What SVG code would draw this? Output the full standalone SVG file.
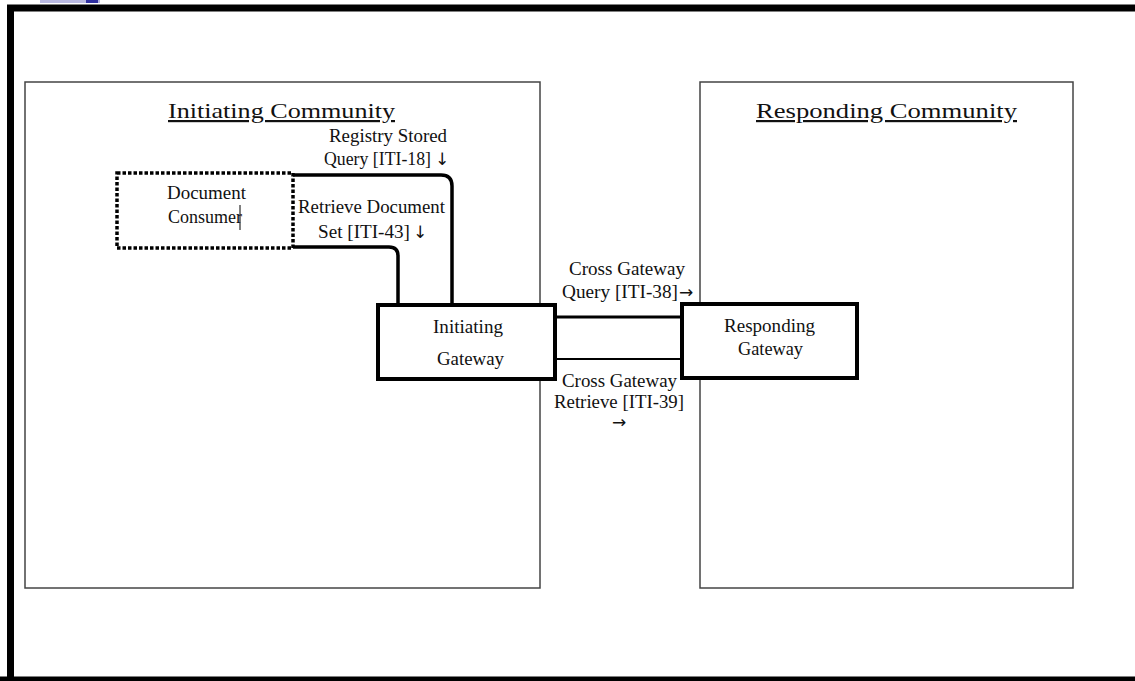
<svg xmlns="http://www.w3.org/2000/svg" width="1135" height="681" viewBox="0 0 1135 681">
<style>
text{font-family:"Liberation Serif","Times New Roman",serif;fill:#111}
.t{font-size:18px}
.h{font-size:22px;text-decoration:underline}
.a{font-family:"DejaVu Sans",sans-serif;font-size:17px}
.comm{fill:none;stroke:#444;stroke-width:1.5}
.gw{fill:#fff;stroke:#000;stroke-width:4}
.conn{fill:none;stroke:#000;stroke-width:3.5}
</style>
<rect width="1135" height="681" fill="#fff"/>
<rect x="40" y="0" width="60" height="3" fill="#b8b8e0"/>
<rect x="86" y="0" width="12" height="3" fill="#3030a0"/>
<path d="M10.5 683 V8 H1140" fill="none" stroke="#000" stroke-width="7"/>
<line x1="0" y1="680" x2="1135" y2="680" stroke="#000" stroke-width="7"/>
<g id="initiating-community">
<rect class="comm" x="25" y="82" width="515" height="506"/>
<text class="h" x="168" y="118" textLength="227" lengthAdjust="spacingAndGlyphs">Initiating Community</text>
</g>
<g id="responding-community">
<rect class="comm" x="700" y="82" width="373" height="506"/>
<text class="h" x="756" y="118" textLength="261" lengthAdjust="spacingAndGlyphs">Responding Community</text>
</g>
<g id="connectors">
<path class="conn" d="M293 175 H441 Q452 175 452 186 V305"/>
<path class="conn" d="M293 247 H389 Q398 247 398 256 V305"/>
<line x1="555" y1="317" x2="682" y2="317" stroke="#000" stroke-width="3"/>
<line x1="555" y1="359" x2="682" y2="359" stroke="#000" stroke-width="2"/>
<text class="t" x="329" y="142" textLength="118" lengthAdjust="spacingAndGlyphs">Registry Stored</text>
<text class="t" x="324" y="165"><tspan textLength="107" lengthAdjust="spacingAndGlyphs">Query [ITI-18]</tspan><tspan class="a" x="435">↓</tspan></text>
<text class="t" x="298" y="213" textLength="147" lengthAdjust="spacingAndGlyphs">Retrieve Document</text>
<text class="t" x="318" y="238"><tspan textLength="92" lengthAdjust="spacingAndGlyphs">Set [ITI-43]</tspan><tspan class="a" x="413">↓</tspan></text>
<text class="t" x="569" y="275" textLength="116" lengthAdjust="spacingAndGlyphs">Cross Gateway</text>
<text class="t" x="562" y="298"><tspan textLength="116" lengthAdjust="spacingAndGlyphs">Query [ITI-38]</tspan><tspan class="a" x="679">→</tspan></text>
<text class="t" x="562" y="387" textLength="115" lengthAdjust="spacingAndGlyphs">Cross Gateway</text>
<text class="t" x="554" y="408" textLength="130" lengthAdjust="spacingAndGlyphs">Retrieve [ITI-39]</text>
<text class="a" x="612" y="428">→</text>
</g>
<g id="document-consumer">
<rect x="117" y="173" width="176" height="75" fill="#fff" stroke="#000" stroke-width="3.5" stroke-dasharray="3.5 2"/>
<text class="t" x="167" y="199" textLength="79" lengthAdjust="spacingAndGlyphs">Document</text>
<text class="t" x="168" y="223" textLength="74" lengthAdjust="spacingAndGlyphs">Consumer</text>
<line x1="240" y1="205" x2="240" y2="230" stroke="#000" stroke-width="1"/>
</g>
<g id="initiating-gateway">
<rect class="gw" x="378" y="305" width="177" height="74"/>
<text class="t" x="433" y="333" textLength="70" lengthAdjust="spacingAndGlyphs">Initiating</text>
<text class="t" x="437" y="365" textLength="67" lengthAdjust="spacingAndGlyphs">Gateway</text>
</g>
<g id="responding-gateway">
<rect class="gw" x="682" y="304" width="175" height="74"/>
<text class="t" x="724" y="332" textLength="91" lengthAdjust="spacingAndGlyphs">Responding</text>
<text class="t" x="738" y="355" textLength="65" lengthAdjust="spacingAndGlyphs">Gateway</text>
</g>
</svg>
